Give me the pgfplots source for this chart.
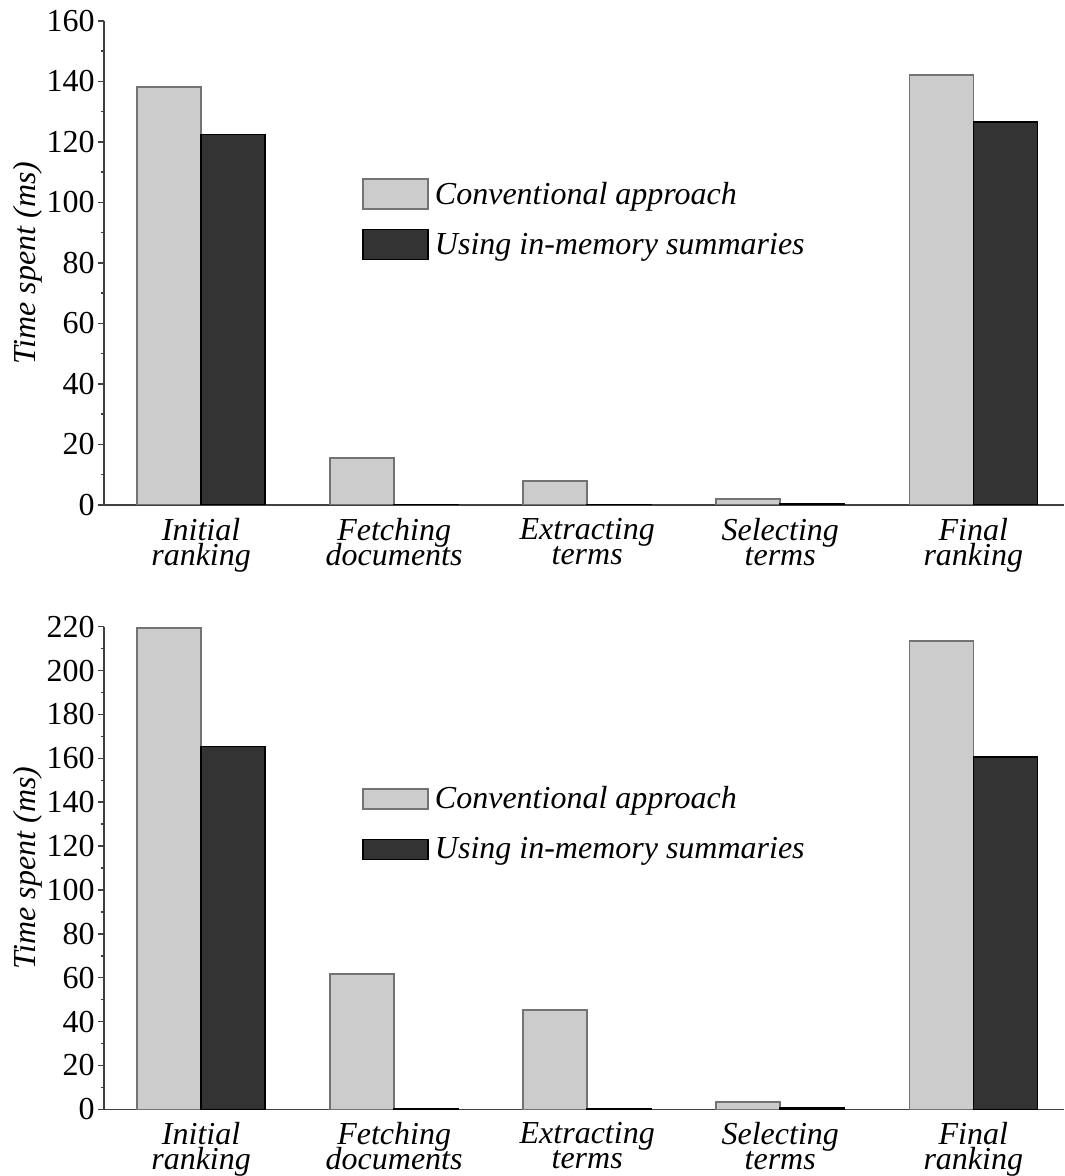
\documentclass[border=0pt]{standalone}
\usepackage{fontspec}
\setmainfont{Liberation Serif}
\usepackage{pgfplots}
\pgfplotsset{compat=1.18}
\definecolor{lightbar}{HTML}{CCCCCC}
\definecolor{darkbar}{HTML}{333333}
\pgfplotsset{
 myaxis/.style={
  scale only axis, width=480pt,
  xmin=-0.503, xmax=4.47,
  axis x line=bottom, axis y line=left,
  axis line style={-, line width=0.75pt, black!75},
  xtick={0,1,2,3,4},
  xticklabels={{Initial\\ranking},{Fetching\\documents},{Extracting\\terms},{Selecting\\terms},{Final\\ranking}},
  xtick style={draw=none},
  xticklabel style={font={\fontsize{16}{12.5}\selectfont\itshape\lineskiplimit=-20pt\lineskip=0pt}, align=center, inner sep=0pt, yshift=-3.3pt},
  ymin=0, ytick distance=20,
  ybar=0pt, bar width=32pt,
  minor y tick num=1,
  tick align=outside,
  major tick length=3pt, minor tick length=1.5pt,
  ytick style={line width=0.75pt, black!75},
  minor y tick style={line width=0.75pt, black!75},
  yticklabel style={font=\fontsize{16}{16}\selectfont, inner sep=0pt, xshift=-1.5pt},
  /pgf/number format/assume math mode=true,
  ylabel={Time spent (ms)},
  every axis y label/.style={at={(axis description cs:-0.079,0.5)}, rotate=90, anchor=center, font=\fontsize{16}{16}\selectfont\itshape},
  legend cell align=left,
  legend style={draw=none, fill=none, anchor=north west, inner sep=0pt, nodes={inner sep=0pt}, column sep=3pt, font=\fontsize{16}{16}\selectfont\itshape},
 },
 lightstyle/.style={fill=lightbar, draw=black!55, line width=0.75pt},
 darkstyle/.style={fill=darkbar, draw=black, line width=0.75pt},
 legtop/.style={legend image code/.code={\draw[##1] (0pt,-7pt) rectangle (32.5pt,8pt);}},
 legbot/.style={legend image code/.code={\draw[##1] (0pt,-5pt) rectangle (32.5pt,5pt);}},
}
\begin{document}
\begin{tikzpicture}
\begin{axis}[myaxis, height=242pt, ymax=160, at={(0,0)}, anchor=south west,
  legend style={at={(0.2688,0.6756)}, row sep=9.5pt}]
\addplot[lightstyle, legtop] coordinates {(0,138.2) (1,15.5) (2,7.9) (3,2.0) (4,142.1)};
\addplot[darkstyle, legtop] coordinates {(0,122.5) (1,0.2) (2,0.2) (3,0.5) (4,126.6)};
\legend{Conventional approach, Using in-memory summaries}
\end{axis}
\begin{axis}[myaxis, height=241.3pt, ymax=220, at={(0,-302.15pt)}, anchor=south west,
  legend style={at={(0.2688,0.670)}, row sep=13pt}]
\addplot[lightstyle, legbot] coordinates {(0,219.4) (1,61.7) (2,45.3) (3,3.3) (4,213.4)};
\addplot[darkstyle, legbot] coordinates {(0,165.3) (1,0.2) (2,0.2) (3,0.5) (4,160.6)};
\legend{Conventional approach, Using in-memory summaries}
\end{axis}
\pgfresetboundingbox
\path[use as bounding box] (-52pt,252.5pt) rectangle (480pt,-335.5pt);
\end{tikzpicture}
\end{document}
